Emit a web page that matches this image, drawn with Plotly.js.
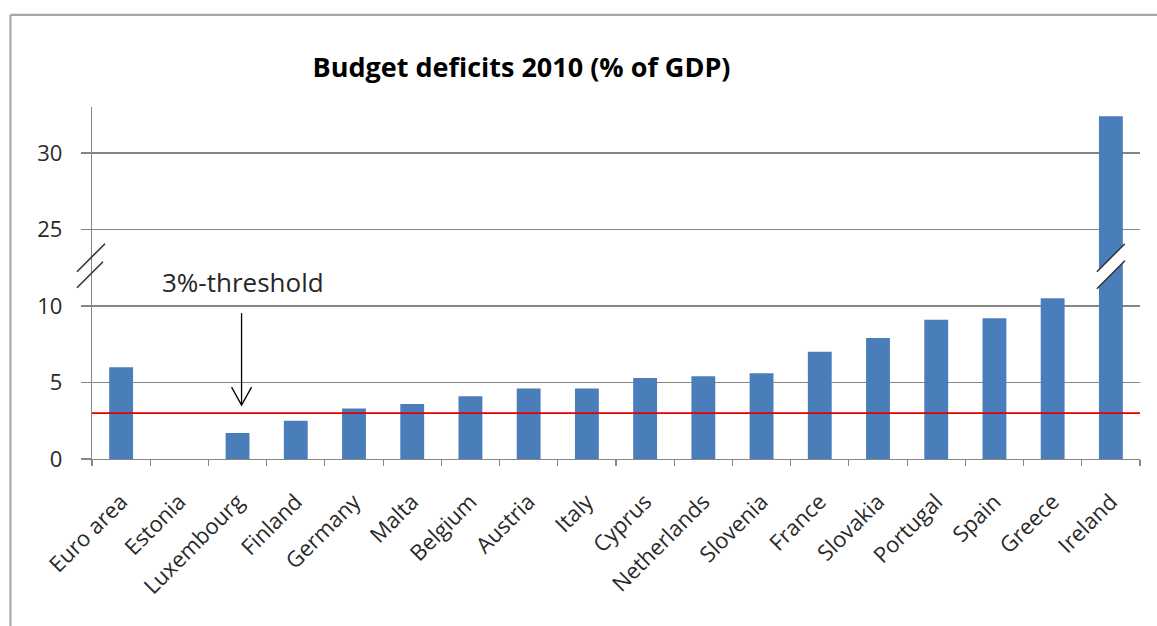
<!DOCTYPE html>
<html>
<head>
<meta charset="utf-8">
<script src="https://cdn.plot.ly/plotly-3.0.1.min.js"></script>
<style>
  html, body { margin: 0; padding: 0; background: #ffffff; }
  #chart { width: 1157px; height: 626px; }
</style>
</head>
<body>
<div id="chart"></div>
<script>
// ---- data ----
const countries = ["Euro area", "Estonia", "Luxembourg", "Finland", "Germany", "Malta",
  "Belgium", "Austria", "Italy", "Cyprus", "Netherlands", "Slovenia", "France",
  "Slovakia", "Portugal", "Spain", "Greece", "Ireland"];
const deficits = [6.0, 0.0, 1.7, 2.5, 3.3, 3.6, 4.1, 4.6, 4.6, 5.3, 5.4, 5.6, 7.0,
  7.9, 9.1, 9.2, 10.5, 32.4];
const yTickValues = [0, 5, 10, 25, 30];
const threshold = 3;
const thresholdLabel = "3%-threshold";
const arrowCountry = "Luxembourg";
const chartTitle = "Budget deficits 2010 (% of GDP)";

// broken axis: the range 10..25 is compressed to 10..15
const breakLow = 10, breakHigh = 25, breakShown = 5;
const gap = breakHigh - breakLow - breakShown;
function toAxis(v) { return v >= breakHigh ? v - gap : v; }
const breakPos = (toAxis(breakLow) + toAxis(breakHigh)) / 2;

const FONT = "Open Sans, Noto Sans, sans-serif";
const GRID = "#868686";
const BLUE = "#4a7ebb";
const lastIdx = countries.length - 1;
const arrowIdx = countries.indexOf(arrowCountry);

const trace = {
  type: "bar",
  x: countries,
  y: deficits.map(toAxis),
  marker: { color: BLUE, line: { width: 0 } },
  hoverinfo: "x+text",
  text: deficits.map(String),
  textposition: "none"
};

const breakLine = { color: "#333333", width: 1.6 };

const shapes = [
  // outer frame (partial, like the cropped Excel chart border)
  { type: "line", xref: "paper", yref: "paper", x0: -0.0778, x1: -0.0778, y0: 1.262, y1: -0.5,
    line: { color: "#a8a8a8", width: 2.2 }, layer: "above" },
  { type: "line", xref: "paper", yref: "paper", x0: -0.0778, x1: 1.03, y0: 1.262, y1: 1.262,
    line: { color: "#a8a8a8", width: 2.2 }, layer: "above" },
  // threshold line
  { type: "line", xref: "paper", yref: "y", x0: 0, x1: 1, y0: threshold, y1: threshold,
    line: { color: "#e00000", width: 1.6 }, layer: "above" },
  // arrow shaft and head
  { type: "line", xref: "x", yref: "y", xsizemode: "pixel", ysizemode: "pixel",
    xanchor: arrowIdx, yanchor: threshold, x0: 4, x1: 4, y0: 100, y1: 8,
    line: { color: "#000000", width: 1.3 }, layer: "above" },
  { type: "path", xref: "x", yref: "y", xsizemode: "pixel", ysizemode: "pixel",
    xanchor: arrowIdx, yanchor: threshold, path: "M-6,26 L4,8 L14,26",
    line: { color: "#000000", width: 1.3 }, layer: "above" },
  // axis break marks on the y axis
  { type: "line", xref: "paper", yref: "y", xsizemode: "pixel", ysizemode: "pixel",
    xanchor: 0, yanchor: breakPos, x0: -15, y0: -4, x1: 13, y1: 24, line: breakLine, layer: "above" },
  { type: "line", xref: "paper", yref: "y", xsizemode: "pixel", ysizemode: "pixel",
    xanchor: 0, yanchor: breakPos, x0: -15, y0: -20, x1: 11, y1: 6, line: breakLine, layer: "above" },
  // break in the Ireland bar
  { type: "path", xref: "x", yref: "y", xsizemode: "pixel", ysizemode: "pixel",
    xanchor: lastIdx, yanchor: breakPos, path: "M-14,-4 L14,24 L14,7 L-14,-21 Z",
    fillcolor: "#ffffff", line: { width: 0 }, layer: "above" },
  { type: "line", xref: "x", yref: "y", xsizemode: "pixel", ysizemode: "pixel",
    xanchor: lastIdx, yanchor: breakPos, x0: -14, y0: -4, x1: 14, y1: 24, line: breakLine, layer: "above" },
  { type: "line", xref: "x", yref: "y", xsizemode: "pixel", ysizemode: "pixel",
    xanchor: lastIdx, yanchor: breakPos, x0: -14, y0: -21, x1: 14, y1: 7, line: breakLine, layer: "above" }
];

const layout = {
  width: 1157,
  height: 626,
  margin: { l: 92, r: 17, t: 107, b: 167, pad: 0 },
  paper_bgcolor: "#ffffff",
  plot_bgcolor: "#ffffff",
  showlegend: false,
  bargap: 0.59,
  title: {
    text: "<b>" + chartTitle + "</b>",
    font: { family: FONT, size: 27, color: "#000000" },
    xref: "container", yref: "container",
    x: 521.5 / 1157, xanchor: "center",
    y: 1 - 68 / 626, yanchor: "middle"
  },
  xaxis: {
    type: "category",
    showline: true, linecolor: GRID, linewidth: 1.2,
    ticks: "outside", tickson: "boundaries", ticklen: 6, tickcolor: GRID, tickwidth: 1.2,
    tickangle: -45,
    tickfont: { family: FONT, size: 22, color: "#2a2a2a" },
    ticklabelstandoff: 20,
    showgrid: false, zeroline: false,
    fixedrange: true
  },
  yaxis: {
    range: [0, 23],
    tickmode: "array",
    tickvals: yTickValues.map(toAxis),
    ticktext: yTickValues.map(String),
    showline: true, linecolor: GRID, linewidth: 1.2,
    ticks: "outside", ticklen: 10, tickcolor: GRID, tickwidth: 1.2,
    tickfont: { family: FONT, size: 22, color: "#2a2a2a" },
    ticklabelstandoff: 14,
    showgrid: true, gridcolor: GRID, gridwidth: 1.2,
    zeroline: false,
    fixedrange: true
  },
  shapes: shapes,
  annotations: [
    {
      text: thresholdLabel,
      xref: "x", yref: "y",
      x: arrowIdx, y: (459 - 282) / 15.3,
      xshift: 5,
      xanchor: "center", yanchor: "middle",
      showarrow: false,
      font: { family: FONT, size: 26, color: "#262626" }
    }
  ]
};

Plotly.newPlot("chart", [trace], layout, { displayModeBar: false, staticPlot: true });
</script>
</body>
</html>
